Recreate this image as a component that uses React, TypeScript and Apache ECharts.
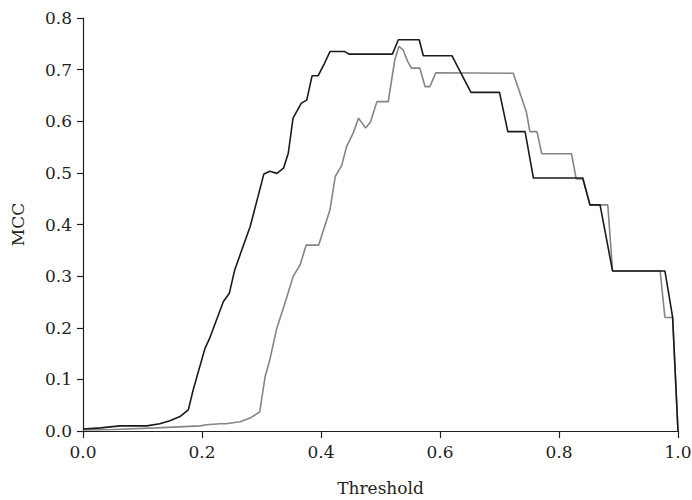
import React, { useEffect, useRef } from "react";
import * as echarts from "echarts";

// Black curve
const thresholdsA = [0, 0.03, 0.062, 0.107, 0.129, 0.146, 0.163, 0.177, 0.185, 0.205, 0.213, 0.236, 0.246, 0.255, 0.267, 0.281, 0.304, 0.314, 0.326, 0.337, 0.345, 0.353, 0.367, 0.376, 0.385, 0.395, 0.405, 0.415, 0.44, 0.447, 0.52, 0.53, 0.565, 0.572, 0.62, 0.652, 0.70, 0.714, 0.743, 0.757, 0.84, 0.852, 0.869, 0.89, 0.978, 0.991, 1.0];
const mccA = [0.004, 0.006, 0.01, 0.01, 0.014, 0.02, 0.028, 0.041, 0.079, 0.16, 0.18, 0.251, 0.267, 0.312, 0.351, 0.396, 0.498, 0.503, 0.499, 0.509, 0.538, 0.606, 0.635, 0.641, 0.688, 0.688, 0.71, 0.735, 0.735, 0.73, 0.73, 0.758, 0.758, 0.727, 0.727, 0.656, 0.656, 0.58, 0.58, 0.49, 0.49, 0.438, 0.438, 0.31, 0.31, 0.22, 0.0];

// Grey curve
const thresholdsB = [0, 0.05, 0.124, 0.197, 0.208, 0.23, 0.24, 0.264, 0.281, 0.297, 0.306, 0.314, 0.325, 0.342, 0.353, 0.365, 0.375, 0.396, 0.415, 0.424, 0.435, 0.443, 0.454, 0.463, 0.475, 0.483, 0.494, 0.513, 0.524, 0.531, 0.538, 0.546, 0.552, 0.566, 0.575, 0.583, 0.593, 0.723, 0.745, 0.751, 0.763, 0.771, 0.821, 0.829, 0.84, 0.852, 0.882, 0.89, 0.97, 0.978, 0.991, 1.0];
const mccB = [0.002, 0.003, 0.006, 0.01, 0.012, 0.014, 0.014, 0.018, 0.025, 0.037, 0.105, 0.138, 0.196, 0.257, 0.299, 0.322, 0.36, 0.36, 0.428, 0.493, 0.515, 0.551, 0.577, 0.606, 0.587, 0.598, 0.638, 0.638, 0.719, 0.745, 0.738, 0.715, 0.703, 0.703, 0.667, 0.667, 0.694, 0.693, 0.619, 0.58, 0.58, 0.537, 0.537, 0.488, 0.488, 0.438, 0.438, 0.31, 0.31, 0.22, 0.22, 0.0];

const xTicks = [0, 0.2, 0.4, 0.6, 0.8, 1.0];
const yTicks = [0, 0.1, 0.2, 0.3, 0.4, 0.5, 0.6, 0.7, 0.8];

const FONT = "DejaVu Serif";
const INK = "#231f20";

export default function App() {
  const ref = useRef<HTMLDivElement>(null);
  useEffect(() => {
    if (!ref.current) return;
    const chart = echarts.init(ref.current, undefined, { renderer: "svg" });
    const zip = (xs: number[], ys: number[]) => xs.map((x, i) => [x, ys[i]]);
    chart.setOption({
      animation: false,
      backgroundColor: "#ffffff",
      grid: { left: 83, right: 14, top: 18, bottom: 69, containLabel: false, outerBoundsMode: "none" },
      xAxis: {
        type: "value",
        min: xTicks[0],
        max: xTicks[xTicks.length - 1],
        interval: 0.2,
        name: "Threshold",
        nameLocation: "middle",
        nameGap: 48,
        nameTextStyle: { fontFamily: FONT, fontSize: 17, color: INK },
        axisLine: { show: true, onZero: false, lineStyle: { color: INK, width: 1.2 } },
        axisTick: { show: true, length: 7, lineStyle: { color: INK, width: 1.2 } },
        axisLabel: {
          margin: 12,
          fontFamily: FONT,
          fontSize: 17,
          color: INK,
          formatter: (v: number) => v.toFixed(1),
        },
        splitLine: { show: false },
      },
      yAxis: {
        type: "value",
        min: yTicks[0],
        max: yTicks[yTicks.length - 1],
        interval: 0.1,
        name: "MCC",
        nameLocation: "middle",
        nameGap: 57,
        nameRotate: 90,
        nameTextStyle: { fontFamily: FONT, fontSize: 17, color: INK },
        axisLine: { show: true, onZero: false, lineStyle: { color: INK, width: 1.2 } },
        axisTick: { show: true, length: 6, lineStyle: { color: INK, width: 1.2 } },
        axisLabel: {
          margin: 11,
          fontFamily: FONT,
          fontSize: 17,
          color: INK,
          formatter: (v: number) => v.toFixed(1),
        },
        splitLine: { show: false },
      },
      series: [
        {
          type: "line",
          data: zip(thresholdsB, mccB),
          showSymbol: false,
          lineStyle: { color: "#858585", width: 1.6 },
          z: 2,
        },
        {
          type: "line",
          data: zip(thresholdsA, mccA),
          showSymbol: false,
          lineStyle: { color: "#1a1a1a", width: 1.6 },
          z: 3,
        },
      ],
    });
    return () => chart.dispose();
  }, []);
  return (
    <div
      ref={ref}
      style={{ position: "absolute", left: 0, top: 0, width: 692, height: 500 }}
    />
  );
}
